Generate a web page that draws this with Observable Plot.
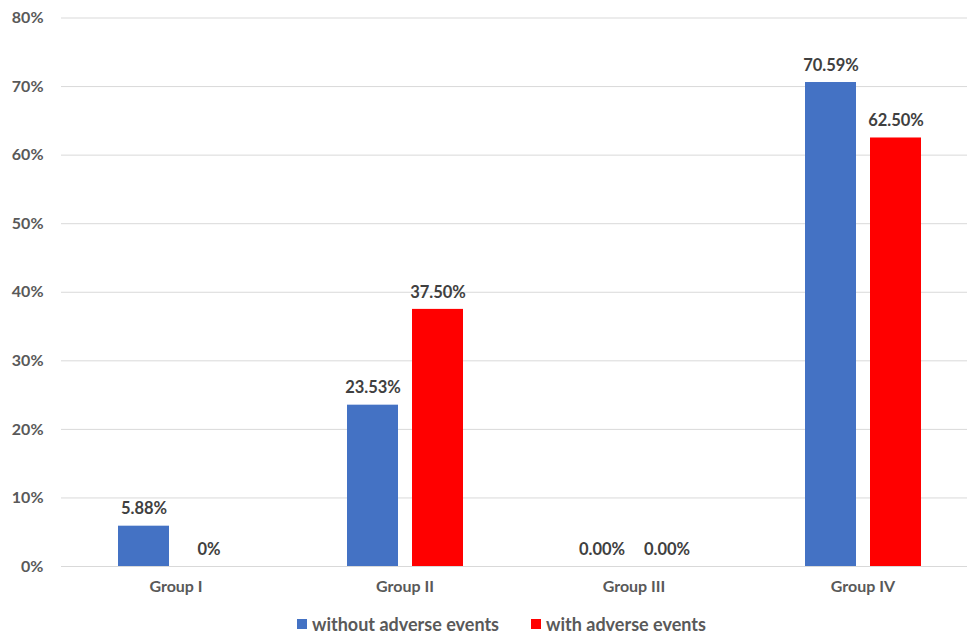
<!DOCTYPE html>
<html>
<head>
<meta charset="utf-8">
<script src="https://cdn.jsdelivr.net/npm/d3@7"></script>
<script src="https://cdn.jsdelivr.net/npm/@observablehq/plot@0.6"></script>
<style>
  html, body { margin: 0; padding: 0; background: #fff; overflow: hidden; }
  #chart { position: relative; width: 967px; height: 635px; }
  #legend { position: absolute; left: 297px; top: 613px; display: flex; align-items: center;
            font-family: Lato, "Open Sans", sans-serif; font-weight: 700; font-size: 18px; color: #595959; }
  .item { display: flex; align-items: center; margin-right: 32px; }
  .swatch { width: 10px; height: 10px; margin-right: 5px; }
</style>
</head>
<body>
<div id="chart"></div>
<script>
// Share of patients per group, with and without adverse events
const groups = ["Group I", "Group II", "Group III", "Group IV"];
const series = ["without adverse events", "with adverse events"];
const withoutValues = [5.88, 23.53, 0, 70.59];
const withValues = [0, 37.5, 0, 62.5];
const withoutLabels = ["5.88%", "23.53%", "0.00%", "70.59%"];
const withLabels = ["0%", "37.50%", "0.00%", "62.50%"];
const yTicks = [0, 10, 20, 30, 40, 50, 60, 70, 80];
const colors = ["#4472C4", "#FF0000"];

const rows = groups.flatMap((g, i) => [
  {group: g, series: series[0], value: withoutValues[i], label: withoutLabels[i]},
  {group: g, series: series[1], value: withValues[i], label: withLabels[i]}
]);

const font = "Lato, 'Open Sans', sans-serif";

const plot = Plot.plot({
  width: 967,
  height: 610,
  marginTop: 17.5,
  marginBottom: 44,
  marginLeft: 61,
  marginRight: -10,
  style: {fontFamily: font, background: "#fff", overflow: "hidden"},
  fx: {domain: groups, padding: 0, label: null},
  x: {domain: series, paddingInner: 0.2154, paddingOuter: 0.869, axis: null},
  y: {domain: [0, 80], ticks: yTicks, label: null},
  color: {domain: series, range: colors},
  marks: [
    Plot.gridY(yTicks, {stroke: "#d9d9d9", strokeOpacity: 1, strokeWidth: 1}),
    Plot.axisY(yTicks, {
      tickSize: 0, tickPadding: 18, tickFormat: d => d + "%",
      fontSize: 16, fontWeight: 700, fill: "#595959", label: null
    }),
    Plot.axisFx({
      anchor: "bottom", tickSize: 0, tickPadding: 14,
      fontSize: 16, fontWeight: 700, fill: "#595959", label: null
    }),
    Plot.barY(rows, {fx: "group", x: "series", y: "value", fill: "series"}),
    Plot.text(rows, {
      fx: "group", x: "series", y: "value", text: "label",
      dy: -17, fontSize: 16.5, fontWeight: 700, fill: "#404040"
    })
  ]
});

document.getElementById("chart").appendChild(plot);

// Legend below the chart
const legend = document.createElement("div");
legend.id = "legend";
series.forEach((s, i) => {
  const item = document.createElement("div");
  item.className = "item";
  const sw = document.createElement("span");
  sw.className = "swatch";
  sw.style.background = colors[i];
  const tx = document.createElement("span");
  tx.textContent = s;
  item.appendChild(sw);
  item.appendChild(tx);
  legend.appendChild(item);
});
document.getElementById("chart").appendChild(legend);
</script>
</body>
</html>
